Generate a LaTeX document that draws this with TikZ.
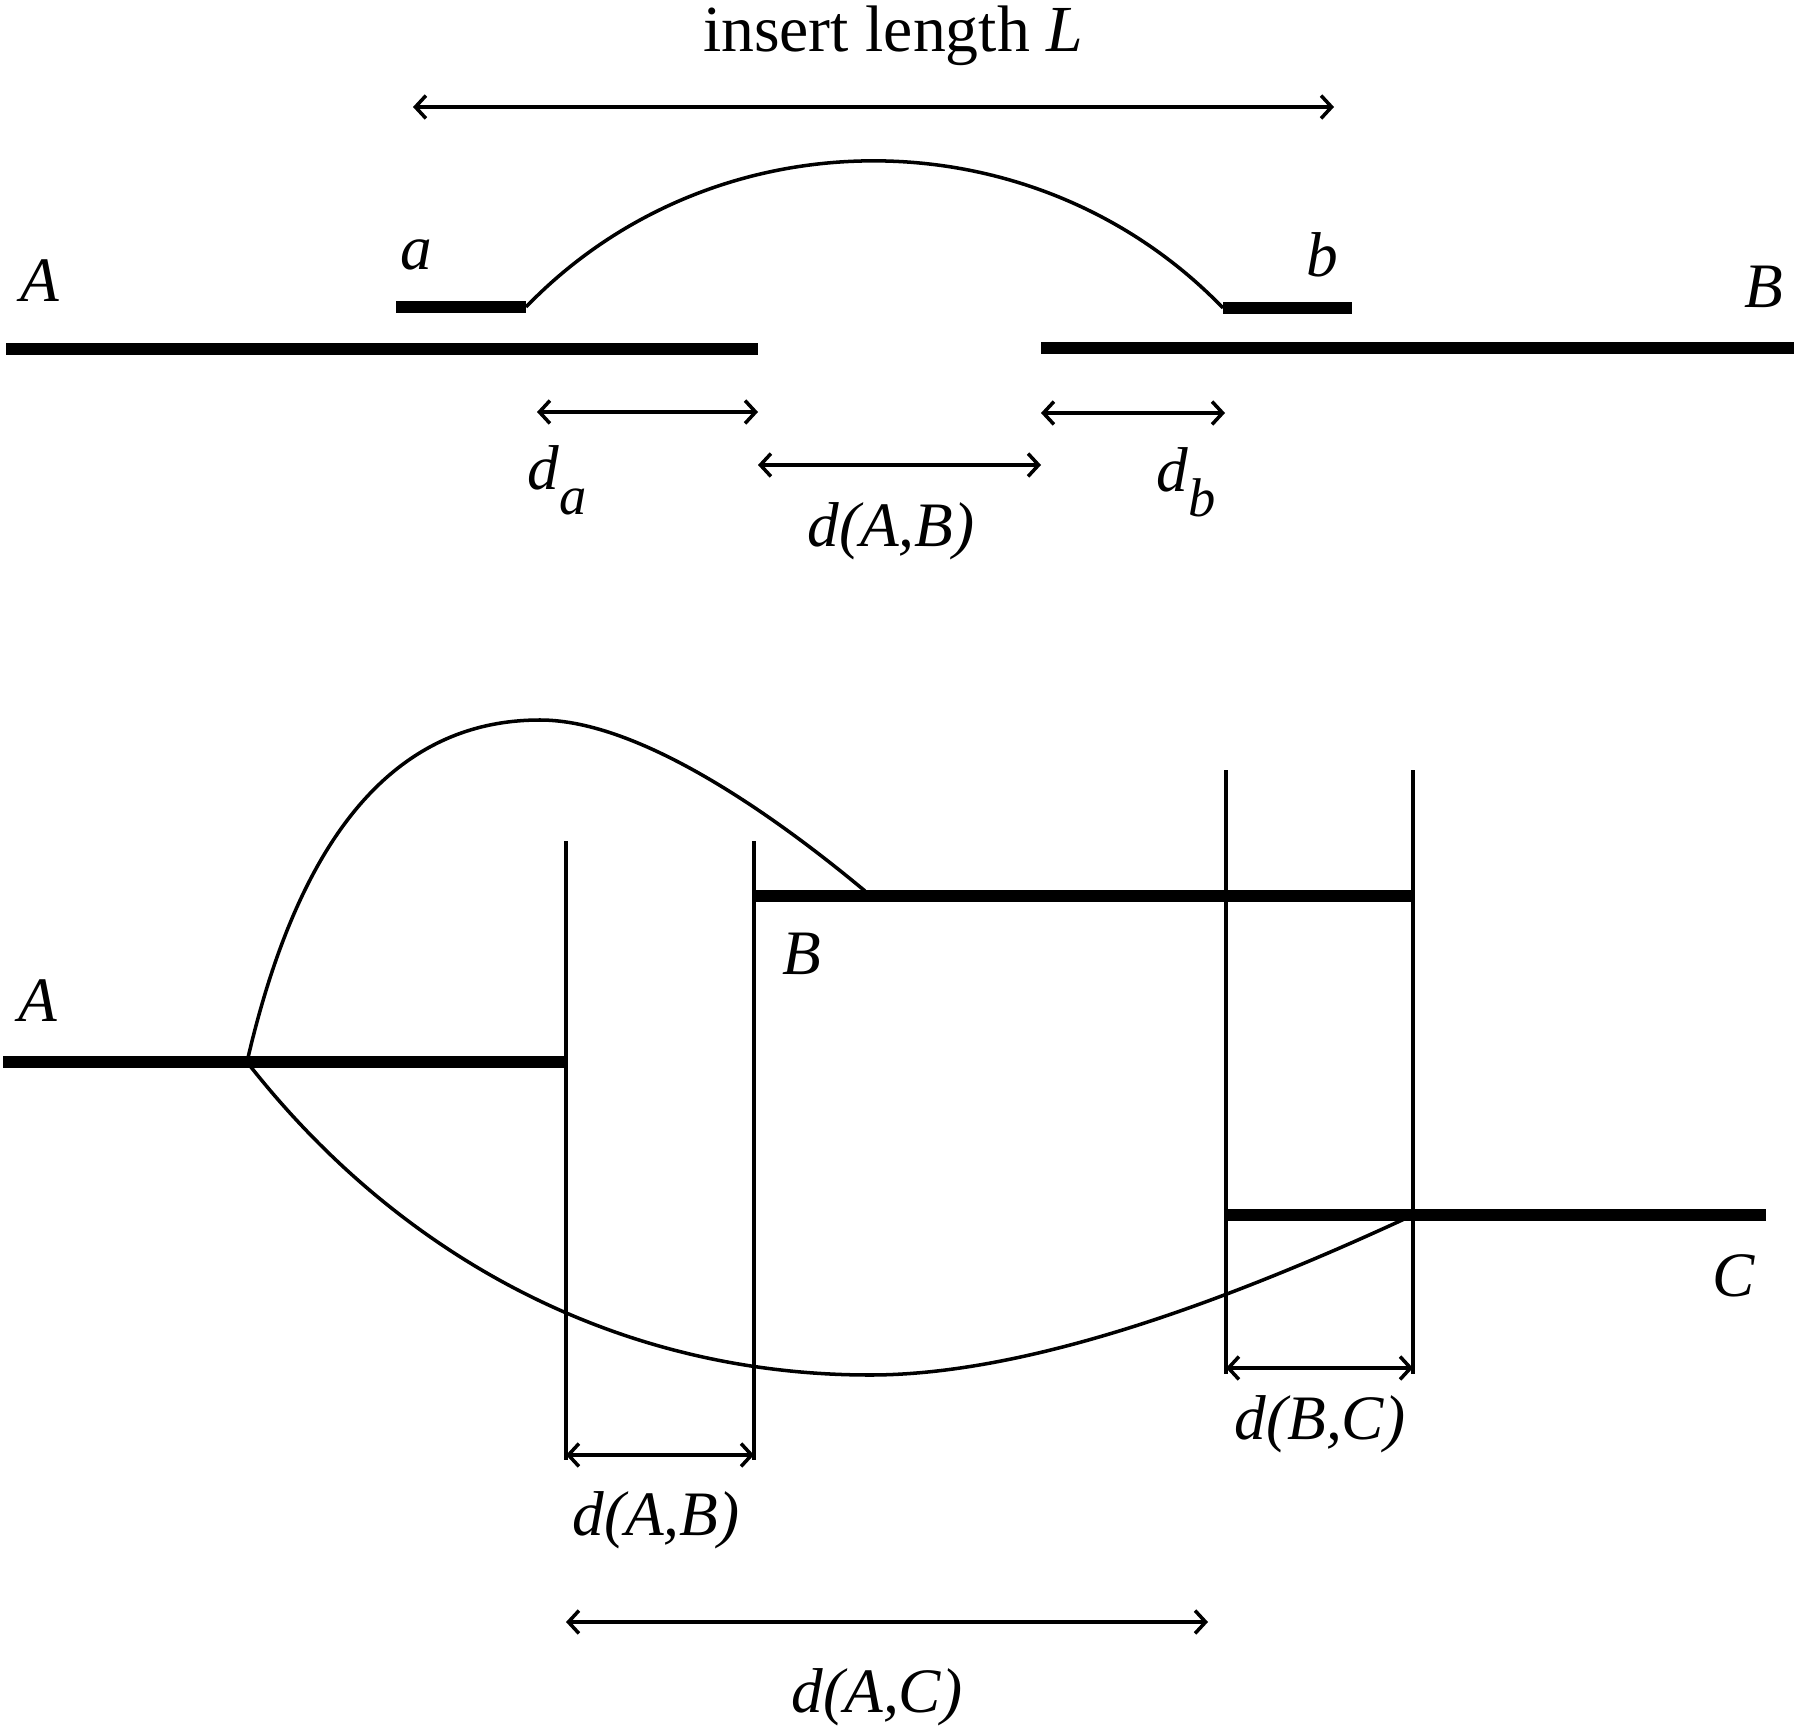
\documentclass[tikz,border=0pt]{standalone}
\usepackage{fontspec}
\setmainfont{Liberation Serif}
\usetikzlibrary{arrows.meta}
\newcommand{\subidx}[1]{\raisebox{-0.4em}{\fontsize{15.5}{15.5}\selectfont #1}}
\begin{document}
\begin{tikzpicture}[x=0.01cm,y=-0.01cm,
  barline/.style={line width=3.3pt},
  thinline/.style={line width=1pt},
  dimarrow/.style={line width=1pt,{Straight Barb[length=3pt,width=6.5pt]}-{Straight Barb[length=3pt,width=6.5pt]}},
  lbl/.style={font=\fontsize{18}{20}\selectfont\itshape, inner sep=0pt},
  rlbl/.style={font=\fontsize{18.7}{21}\selectfont, inner sep=0pt},
]
\useasboundingbox (0,0) rectangle (1800,1728);

% ---------- top figure ----------
\coordinate (A1s) at (6,349);    \coordinate (A1e) at (758,349);
\coordinate (B1s) at (1041,348); \coordinate (B1e) at (1794,348);
\coordinate (as) at (396,307);   \coordinate (ae) at (526,307);
\coordinate (bs) at (1223,308);  \coordinate (be) at (1352,308);
\coordinate (L1) at (413,107);   \coordinate (L2) at (1334,107);
\coordinate (da1) at (537,412);  \coordinate (da2) at (758,412);
\coordinate (dab1) at (758,465); \coordinate (dab2) at (1041,465);
\coordinate (db1) at (1041,413); \coordinate (db2) at (1225,413);

\draw[barline] (A1s) -- (A1e);
\draw[barline] (B1s) -- (B1e);
\draw[barline] (as) -- (ae);
\draw[barline] (bs) -- (be);
\draw[thinline] (ae) to[out=46,in=134] (bs);
\draw[dimarrow] (L1) -- (L2);
\draw[dimarrow] (da1) -- (da2);
\draw[dimarrow] (dab1) -- (dab2);
\draw[dimarrow] (db1) -- (db2);

\node[rlbl] (tL) at (893,36) {insert length \textit{L}};
\node[lbl] (tA) at (40,281) {A};
\node[lbl] (tB) at (1764,287) {B};
\node[lbl] (ta) at (416,255) {a};
\node[lbl] (tb) at (1322,255) {b};
\node[lbl] (tda) at (557,480) {d\subidx{a}};
\node[lbl] (tdab) at (891,531) {d(A,B)};
\node[lbl] (tdb) at (1186,482) {d\subidx{b}};

% ---------- bottom figure ----------
\coordinate (A2s) at (3,1062);   \coordinate (A2e) at (566,1062);
\coordinate (v1t) at (566,841);  \coordinate (v1b) at (566,1460);
\coordinate (v2t) at (754,841);  \coordinate (v2b) at (754,1460);
\coordinate (B2s) at (754,896);  \coordinate (B2e) at (1414,896);
\coordinate (v3t) at (1226,770); \coordinate (v3b) at (1226,1374);
\coordinate (v4t) at (1413,770); \coordinate (v4b) at (1413,1374);
\coordinate (C2s) at (1226,1215); \coordinate (C2e) at (1766,1215);
\coordinate (br) at (247,1062);
\coordinate (pk2) at (540,720);
\coordinate (bend) at (865,891);
\coordinate (low) at (870,1375);
\coordinate (cend) at (1413,1215);
\coordinate (dab3) at (566,1455); \coordinate (dab4) at (754,1455);
\coordinate (dbc1) at (1226,1368); \coordinate (dbc2) at (1413,1368);
\coordinate (dac1) at (566,1622); \coordinate (dac2) at (1208,1622);

\draw[barline] (A2s) -- (A2e);
\draw[barline] (B2s) -- (B2e);
\draw[barline] (C2s) -- (C2e);
\draw[thinline] (v1t) -- (v1b);
\draw[thinline] (v2t) -- (v2b);
\draw[thinline] (v3t) -- (v3b);
\draw[thinline] (v4t) -- (v4b);
\draw[thinline] (br) to[out=77,in=180] (pk2)
  .. controls (640,720) and (775,816) .. (bend);
\draw[thinline] (br) .. controls (401,1259) and (620,1375) .. (low)
  .. controls (1030,1375) and (1232,1299) .. (cend);
\draw[dimarrow] (dab3) -- (dab4);
\draw[dimarrow] (dbc1) -- (dbc2);
\draw[dimarrow] (dac1) -- (dac2);

\node[lbl] (bA) at (38,1001) {A};
\node[lbl] (bB) at (802,954) {B};
\node[lbl] (bC) at (1734,1276) {C};
\node[lbl] (bdbc) at (1320,1424) {d(B,C)};
\node[lbl] (bdab) at (656,1520) {d(A,B)};
\node[lbl] (bdac) at (877,1697) {d(A,C)};
\end{tikzpicture}
\end{document}
